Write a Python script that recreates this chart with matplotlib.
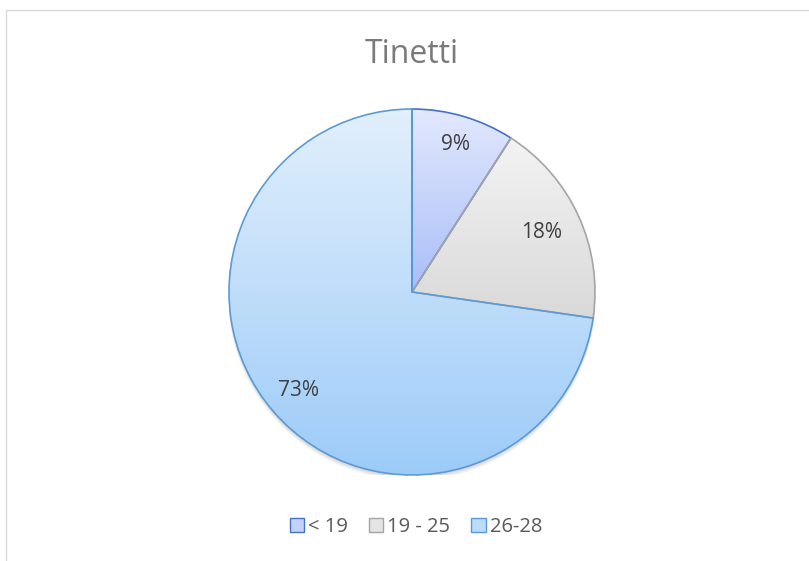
import numpy as np
import matplotlib
matplotlib.use('Agg')
from matplotlib import pyplot as plt
from matplotlib.patches import Circle, Rectangle
from matplotlib.colors import LinearSegmentedColormap

plt.rcParams['font.family'] = ['Open Sans', 'DejaVu Sans']

title = 'Tinetti'
categories = ['< 19', '19 - 25', '26-28']
counts = [1, 2, 8]

top_colors = ['#e2e8fd', '#f3f3f3', '#e2effc']
bottom_colors = ['#a9bef8', '#d9d9d9', '#9ccbf8']
edge_colors = ['#4472c4', '#a5a5a5', '#5b9bd5']
legend_fill = ['#c4d2fb', '#e4e4e4', '#bcdcfb']
label_dist = [0.84, 0.78, 0.82]

W, H = 809, 561
fig = plt.figure(figsize=(W / 100, H / 100), dpi=100)

# chart frame
fig.patches.append(Rectangle((6 / W, -0.1), 2, 1.1 - 10 / H, transform=fig.transFigure,
                             fill=False, edgecolor='#d9d9d9', linewidth=1.0))

cx, cy, r = 412, 292, 183
ax = fig.add_axes([(cx - r) / W, (H - cy - r) / H, 2 * r / W, 2 * r / H])

# soft shadow under the pie
px = 2.0 / (2 * r)
for k in range(1, 6):
    ax.add_patch(Circle((0, -k * px * 0.9), 1.0 + k * px * 0.2, facecolor='#000000',
                        alpha=0.035, edgecolor='none', zorder=0))

wedges, texts, autotexts = ax.pie(
    counts, startangle=90, counterclock=False, radius=1.0,
    autopct=lambda p: f'{p:.0f}%', pctdistance=1.0,
    wedgeprops=dict(linewidth=1.2),
    textprops=dict(color='#404040', fontsize=15))

for w, top, bot, ec in zip(wedges, top_colors, bottom_colors, edge_colors):
    w.set_facecolor('none')
    w.set_edgecolor(ec)
    w.set_zorder(3)
    w.set_clip_on(False)
    v = w.get_path().vertices
    y0, y1 = v[:, 1].min(), v[:, 1].max()
    cmap = LinearSegmentedColormap.from_list('g', [bot, top])
    grad = np.linspace(0, 1, 256).reshape(-1, 1)
    im = ax.imshow(grad, cmap=cmap, origin='lower', extent=[-1, 1, y0, y1],
                   aspect='auto', zorder=2, interpolation='bilinear')
    im.set_clip_path(w)

for t, d in zip(autotexts, label_dist):
    x, y = t.get_position()
    t.set_position((x * d, y * d))
    t.set_zorder(5)

ax.set_xlim(-1, 1)
ax.set_ylim(-1, 1)
ax.set_aspect('equal')
ax.axis('off')

fig.text(cx / W, 1 - 63 / H, title, ha='center', va='baseline', fontsize=23,
         color='#7a7a7a')

handles = [Rectangle((0, 0), 1, 1, facecolor=fc, edgecolor=ec, linewidth=1.0)
           for fc, ec in zip(legend_fill, edge_colors)]
fig.legend(handles, categories, loc='center', bbox_to_anchor=(416 / W, 1 - 527 / H),
           ncol=3, frameon=False, fontsize=14.5, labelcolor='#595959',
           handlelength=0.7, handleheight=0.7, handletextpad=0.2, columnspacing=1.05)

fig.savefig('out.png', dpi=100)
